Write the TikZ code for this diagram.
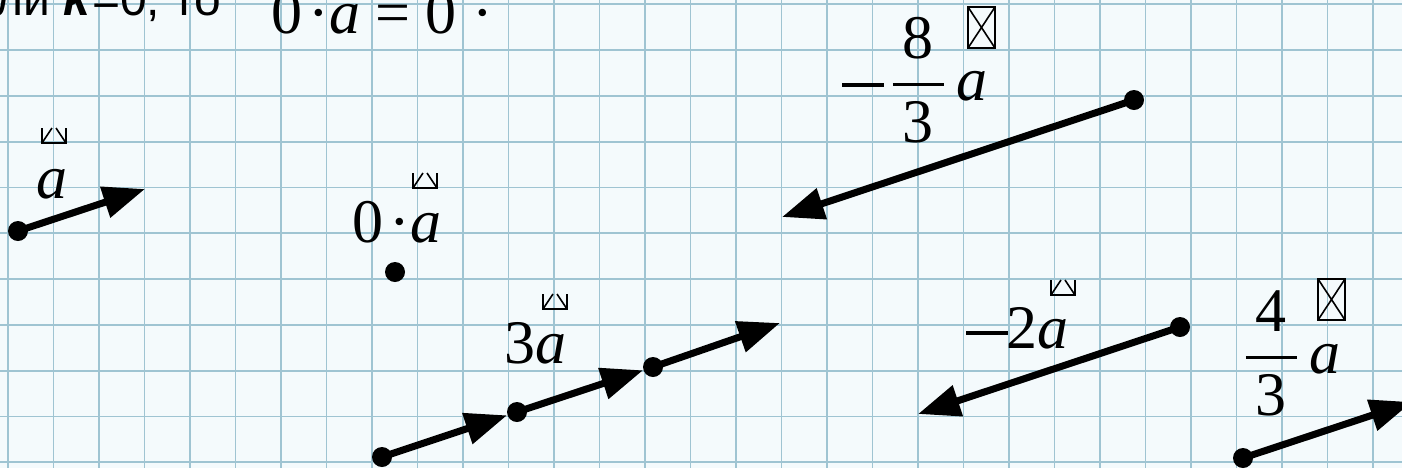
\RequirePackage{fix-cm}
\documentclass[tikz,border=0pt]{standalone}
\usepackage{amsmath}
\usepackage{fontspec}
\setmainfont{Liberation Serif}
\setsansfont{Liberation Sans}
\usepackage{xcolor}
\definecolor{paper}{HTML}{F4FAFC}
\definecolor{gridline}{HTML}{9FC4D2}
\usetikzlibrary{arrows.meta}

\newcommand{\bigminus}{\text{\rule[6.7pt]{21pt}{1.7pt}}}

\begin{document}
\begin{tikzpicture}[x=0.5pt,y=-0.5pt,
  vec/.style={line width=3.5pt, -{Triangle[length=21pt,width=15.5pt]}},
  dot/.style={circle, fill=black, inner sep=0pt, minimum size=10pt},
  lbl/.style={inner sep=0pt, anchor=base west, font=\fontsize{31pt}{33pt}\selectfont},
  tofu/.pic={\draw[line width=0.8pt] (0,0) rectangle (27,-41) (0,0) -- (27,-41) (27,0) -- (0,-41);},
  tofucut/.pic={\draw[line width=0.8pt] (0,-15) -- (0,0) -- (24,0) -- (24,-15) (0,0) -- (10,-15) (24,0) -- (14,-15);}]
  \useasboundingbox (0,0) rectangle (1402,468);
  \clip (0,0) rectangle (1402,468);
  % squared paper
  \fill[paper] (0,0) rectangle (1402,468);
  \foreach \i in {0,...,30}
    \draw[gridline, line width=0.9pt] ({8+45.5*\i},0) -- ({8+45.5*\i},468);
  \foreach \j in {0,...,10}
    \draw[gridline, line width=0.9pt] (0,{4.2+45.8*\j}) -- (1402,{4.2+45.8*\j});
  % heading line, cut at the top
  \node[inner sep=0pt, anchor=base east, font=\sffamily\fontsize{24pt}{26pt}\selectfont] (cond) at (222,15) {Если \textbf{\textit{k}}=0, то};
  \node[lbl] (eqz) at (271,33) {0\kern3pt·\textit{a} = 0 ·};
  % vector a
  \node[dot] (a0) at (18,231) {};
  \coordinate (a1) at (145,189);
  \draw[vec] (a0.center) -- (a1);
  \node[lbl] (la) at (36,198) {\textit{a}};
  \pic at (42,143) {tofucut};
  % zero vector
  \node[dot] (z0) at (395,272) {};
  \node[lbl] (lz) at (352,242) {0\kern3pt·\textit{a}};
  \pic at (413,188) {tofucut};
  % 3a, head to tail
  \node[dot] (b0) at (382,457) {};
  \node[dot] (b1) at (517,412) {};
  \node[dot] (b2) at (653,367) {};
  \coordinate (b3) at (780,323);
  \draw[vec] (b0.center) -- (b1);
  \draw[vec] (b1.center) -- (b2);
  \draw[vec] (b2.center) -- (b3);
  \node[lbl] (l3) at (504,363) {3\textit{a}};
  \pic at (543,309) {tofucut};
  % -8/3 a
  \node[dot] (d0) at (1134,100) {};
  \coordinate (d1) at (782,217);
  \draw[vec] (d0.center) -- (d1);
  \node[lbl] (l83) at (842,100) {$\bigminus\kern3pt\genfrac{}{}{1.4pt}{0}{\text{\kern5pt 8\kern5pt}}{\text{3}}\,\text{\textit{a}}$};
  \pic at (968,48) {tofu};
  % -2a
  \node[dot] (c0) at (1180,327) {};
  \coordinate (c1) at (918,414);
  \draw[vec] (c0.center) -- (c1);
  \node[lbl] (l2) at (966,348) {$\bigminus$\kern-1pt 2\textit{a}};
  \pic at (1051,295) {tofucut};
  % 4/3 a
  \node[dot] (e0) at (1243,458) {};
  \coordinate (e1) at (1412,402);
  \draw[vec] (e0.center) -- (e1);
  \node[lbl] (l43) at (1243,373) {$\genfrac{}{}{1.4pt}{0}{\text{\kern5pt 4\kern5pt}}{\text{3}}\,\text{\textit{a}}$};
  \pic at (1318,320) {tofu};
\end{tikzpicture}
\end{document}
